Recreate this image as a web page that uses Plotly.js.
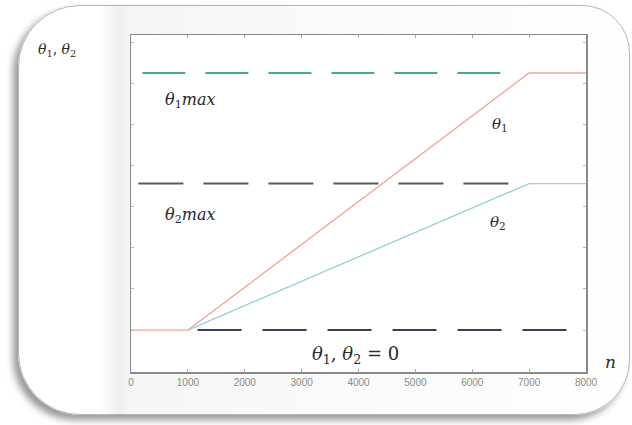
<!DOCTYPE html>
<html>
<head>
<meta charset="utf-8">
<script src="https://cdn.plot.ly/plotly-3.0.1.min.js"></script>
<style>
  html, body { margin:0; padding:0; width:632px; height:425px; background:#ffffff; overflow:hidden; }
  #frame { position:absolute; left:18px; top:5px; width:610px; height:408px;
           border:1px solid #b5b5b5; border-radius:62px 48px 55px 62px;
           background: linear-gradient(to right, #ffffff 0px, #ffffff 80px, #efefef 100px, #f6f6f6 112px, #ffffff 600px);
           box-shadow: -5px 5px 7px rgba(0,0,0,0.40); }
  #chart { position:absolute; left:0; top:0; width:632px; height:425px; }
</style>
</head>
<body>
<div id="frame"></div>
<div id="chart"></div>
<script>
// ---- data ----
var n = [0, 1000, 7000, 8000];
var theta1 = [0, 0, 1.0, 1.0];
var theta2 = [0, 0, 0.57, 0.57];
var theta1Max = 1.0;
var theta2Max = 0.57;
var theta1MaxSpan = [200, 6620];
var theta2MaxSpan = [130, 6720];
var zeroSpan = [1170, 7780];
var xTicks = [0, 1000, 2000, 3000, 4000, 5000, 6000, 7000, 8000];
var xTickText = ['0', '1000', '2000', '3000', '4000', '5000', '6000', '7000', '8000'];

var traces = [
  { x: theta1MaxSpan, y: [theta1Max, theta1Max], mode: 'lines',
    line: { color: '#3daf90', width: 2, dash: '43px,20px' }, hoverinfo: 'skip' },
  { x: theta2MaxSpan, y: [theta2Max, theta2Max], mode: 'lines',
    line: { color: '#5a5a5a', width: 2, dash: '45px,20px' }, hoverinfo: 'skip' },
  { x: zeroSpan, y: [0, 0], mode: 'lines',
    line: { color: '#3c3c5c', width: 2, dash: '44px,21px' }, hoverinfo: 'skip' },
  { x: n.slice(1), y: theta2.slice(1), mode: 'lines',
    line: { color: '#9ccfd6', width: 1.4 }, hoverinfo: 'skip' },
  { x: n, y: theta1, mode: 'lines',
    line: { color: '#eeaa9c', width: 1.4 }, hoverinfo: 'skip' }
];

var mathFont = { family: 'DejaVu Serif', size: 16, color: '#2a2a2a' };
function lbl(x, y, text, xanchor, ref, size) {
  var f = Object.assign({}, mathFont);
  if (size) f.size = size;
  return { x: x, y: y, text: text, xref: ref ? 'paper' : 'x', yref: ref ? 'paper' : 'y',
           xanchor: xanchor, yanchor: 'middle', showarrow: false, font: f };
}

var layout = {
  width: 632, height: 425,
  margin: { l: 131, r: 46, t: 35, b: 53 },
  paper_bgcolor: 'rgba(0,0,0,0)',
  plot_bgcolor: '#ffffff',
  showlegend: false,
  xaxis: {
    range: [0, 8000], tickvals: xTicks, ticktext: xTickText,
    showgrid: false, zeroline: false,
    ticks: 'inside', ticklen: 3, tickcolor: '#aaaaaa',
    showline: true, linecolor: '#8a8a8a', linewidth: 1.5, mirror: 'ticks',
    tickfont: { family: 'Liberation Sans Narrow, Liberation Sans, sans-serif', size: 10, color: '#8a8a8a' }
  },
  yaxis: {
    range: [-0.163, 1.148], dtick: 0.16, showticklabels: false,
    showgrid: false, zeroline: false,
    ticks: 'inside', ticklen: 3, tickcolor: '#bbbbbb',
    showline: true, linecolor: '#8a8a8a', linewidth: 1.5, mirror: 'ticks'
  },
  annotations: [
    lbl(570, 0.895, '<i>θ</i><sub>1</sub><i>max</i>', 'left'),
    lbl(6480, 0.80, '<i>θ</i><sub>1</sub>', 'center', false, 15),
    lbl(570, 0.447, '<i>θ</i><sub>2</sub><i>max</i>', 'left'),
    lbl(6450, 0.42, '<i>θ</i><sub>2</sub>', 'center', false, 15),
    lbl(3150, -0.097, '<i>θ</i><sub>1</sub>, <i>θ</i><sub>2</sub> = 0', 'left', false, 18),
    lbl(1.053, 0.03, '<i>n</i>', 'center', true, 17),
    lbl(-0.209, 0.955, '<i>θ</i><sub>1</sub>, <i>θ</i><sub>2</sub>', 'left', true, 14)
  ]
};

Plotly.newPlot('chart', traces, layout, { staticPlot: true, displayModeBar: false });
</script>
</body>
</html>
